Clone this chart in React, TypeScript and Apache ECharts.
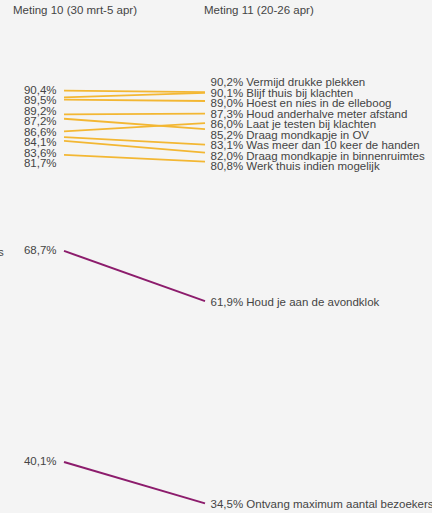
import React, { useEffect, useRef } from "react";
import * as echarts from "echarts";

const categories = [
  "Vermijd drukke plekken",
  "Blijf thuis bij klachten",
  "Hoest en nies in de elleboog",
  "Houd anderhalve meter afstand",
  "Laat je testen bij klachten",
  "Draag mondkapje in OV",
  "Was meer dan 10 keer de handen",
  "Draag mondkapje in binnenruimtes",
  "Werk thuis indien mogelijk",
  "Houd je aan de avondklok",
  "Ontvang maximum aantal bezoekers",
];
const meting10 = [90.4, 89.5, 89.2, 87.2, 84.9, 86.6, 84.1, 83.6, 81.7, 68.7, 40.1];
const meting11 = [90.2, 90.1, 89.0, 87.3, 86.0, 85.2, 83.1, 82.0, 80.8, 61.9, 34.5];
const groups = ["gedrag", "gedrag", "gedrag", "gedrag", "gedrag", "gedrag", "gedrag", "gedrag", "gedrag", "avond", "avond"];
const leftLabelHidden = [false, false, false, false, true, false, false, false, false, false, false];
const periods = ["Meting 10 (30 mrt-5 apr)", "Meting 11 (20-26 apr)"];

const YELLOW = "#f3b733";
const PURPLE = "#8c1c6c";
const TEXT = "#444444";
const BG = "#f4f4f4";
const FONT = "'Liberation Sans', Arial, Helvetica, sans-serif";
const FS = 11.5;

const fmt = (v: number) => v.toFixed(1).replace(".", ",") + "%";

const Y_MIN = 33.2;
const Y_MAX = 100;
const GRID_TOP = 19.8;
const GRID_H = 493.2;
const GAP = 10.5;

function spread(vals: number[], idx: number[], balance: boolean): Record<number, number> {
  const ppu = GRID_H / (Y_MAX - Y_MIN);
  const items = idx.map((i) => ({ i, y: (Y_MAX - vals[i]) * ppu, ny: 0 }));
  items.sort((a, b) => a.y - b.y);
  let last = -Infinity;
  let total = 0;
  for (const it of items) {
    const ny = Math.max(it.y, last + GAP);
    total += ny - it.y;
    it.ny = ny;
    last = ny;
  }
  const shift = balance ? total / items.length : 0;
  const out: Record<number, number> = {};
  for (const it of items) out[it.i] = it.ny - shift - it.y;
  return out;
}

export default function App() {
  const ref = useRef<HTMLDivElement>(null);
  useEffect(() => {
    if (!ref.current) return;
    const chart = echarts.init(ref.current, undefined, { renderer: "svg" });
    const yellowIdx = categories.map((_, i) => i).filter((i) => groups[i] === "gedrag");
    const leftOff = spread(meting10, yellowIdx.filter((i) => !leftLabelHidden[i]), false);
    const rightOff = spread(meting11, yellowIdx, true);

    const series = categories.map((name, i) => {
      const color = groups[i] === "gedrag" ? YELLOW : PURPLE;
      const labelBase = { color: TEXT, fontSize: FS, fontFamily: FONT, lineHeight: 11 };
      return {
        type: "line",
        name,
        symbol: "circle",
        symbolSize: 1,
        itemStyle: { color: "rgba(0,0,0,0)" },
        lineStyle: { color, width: groups[i] === "gedrag" ? 1.8 : 2 },
        emphasis: { disabled: true },
        data: [
          {
            value: meting10[i],
            label: {
              ...labelBase,
              show: !leftLabelHidden[i],
              position: "left",
              distance: 7,
              offset: [0, (leftOff[i] || 0) - 1],
              formatter: () => fmt(meting10[i]),
            },
          },
          {
            value: meting11[i],
            label: {
              ...labelBase,
              show: true,
              position: "right",
              distance: 5,
              offset: [0, (rightOff[i] || 0) + 1],
              formatter: () => fmt(meting11[i]) + " " + name,
            },
          },
        ],
      };
    });

    chart.setOption({
      animation: false,
      backgroundColor: BG,
      grid: { left: 64, top: GRID_TOP, width: 141, height: GRID_H, containLabel: false },
      xAxis: {
        type: "category",
        data: periods,
        boundaryGap: false,
        show: false,
      },
      yAxis: { type: "value", min: Y_MIN, max: Y_MAX, show: false },
      graphic: [
        { type: "text", left: 13, top: 4, style: { text: periods[0], font: `${FS}px ${FONT}`, fill: TEXT } },
        { type: "text", left: 204, top: 4, style: { text: periods[1], font: `${FS}px ${FONT}`, fill: TEXT } },
        { type: "text", left: -2, top: 246, style: { text: "s", font: `${FS}px ${FONT}`, fill: TEXT } },
      ],
      series,
    } as any);
    return () => chart.dispose();
  }, []);
  return (
    <div
      ref={ref}
      style={{ position: "absolute", left: 0, top: 0, width: 432, height: 513, background: BG }}
    />
  );
}
